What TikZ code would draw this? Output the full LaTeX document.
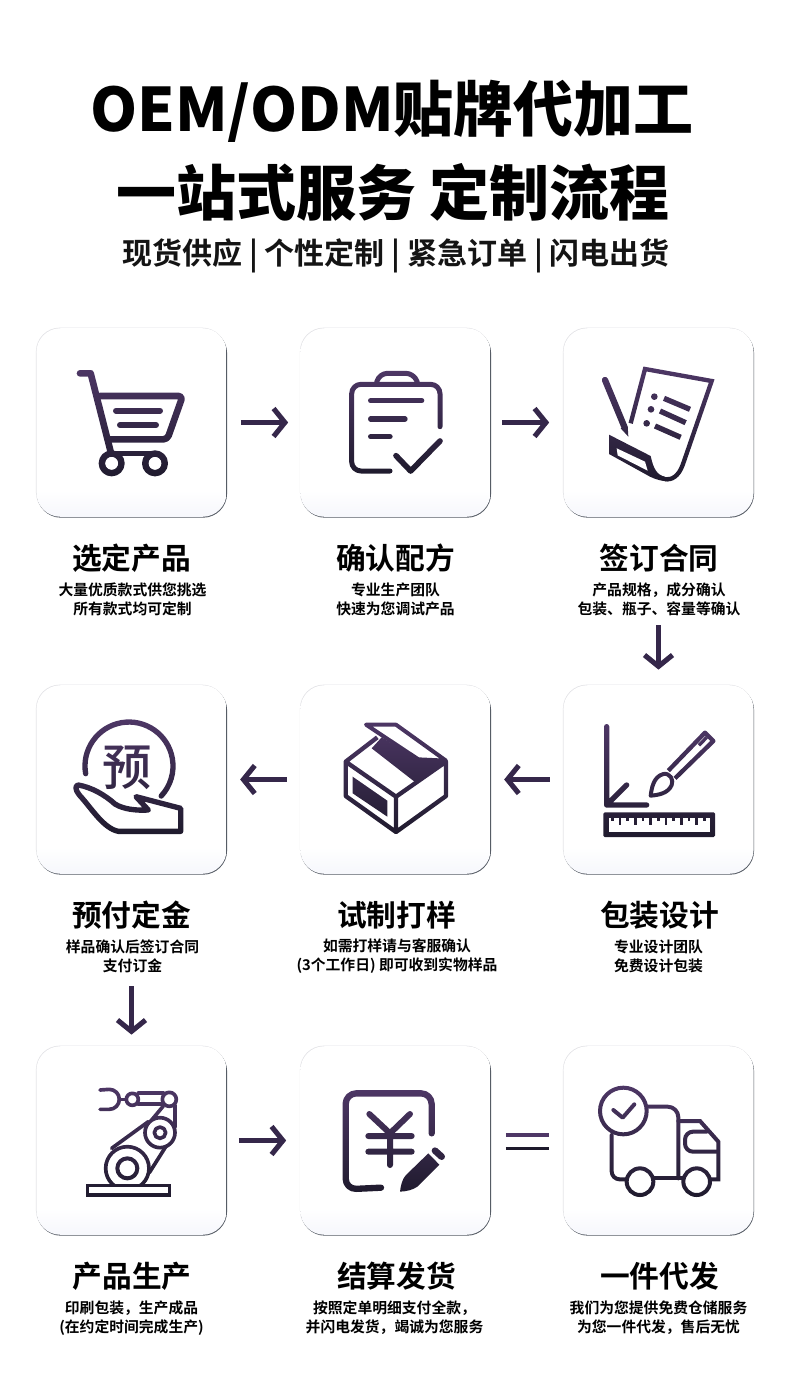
\documentclass[tikz,border=0pt]{standalone}
\usepackage{fontspec}
\usetikzlibrary{arrows.meta,shadings,calc}
\setmainfont{Noto Sans CJK SC}
\newfontfamily\heavyf{Noto Sans CJK SC Black}
\newfontfamily\medf{Noto Sans CJK SC Medium}
\newfontfamily\boldf{Noto Sans CJK SC Bold}
\definecolor{ink}{HTML}{35274A}
\definecolor{gtop}{HTML}{4E3766}
\definecolor{gbot}{HTML}{1E1A2C}
\definecolor{cardedge}{HTML}{E2E2E6}
\definecolor{cardshade}{HTML}{565C65}
\definecolor{cardlow}{HTML}{F6F7FC}
\pgfdeclareverticalshading{cardgrad}{100bp}{color(0bp)=(cardlow); color(25bp)=(cardlow); color(32bp)=(white); color(100bp)=(white)}
\tikzset{
  cardbase/.style={rectangle,rounded corners=18pt,minimum width=142.6pt,minimum height=141.4pt,inner sep=0pt},
  card/.style={cardbase,shading=cardgrad},
  cardtop/.style={cardbase,fill=cardedge},
  cardlowr/.style={cardbase,fill=cardshade},
  flow/.style={draw=ink,line width=3.4pt,-{Straight Barb[length=8.5pt,width=21pt,line width=3.8pt]}},
  zc/.style={x=.25pt,y=-.25pt},
  ik/.style={draw=black,line width=#1*.25pt,line cap=round,line join=round},
  ikb/.style={draw=black,line width=#1*.25pt,line join=miter},
  title/.style={font=\heavyf\fontsize{45}{50}\selectfont,text=black,inner sep=0pt},
  subt/.style={font=\boldf\fontsize{22.5}{26}\selectfont,text=black!92,inner sep=0pt},
  head/.style={font=\boldf\fontsize{22.3}{26}\selectfont,text=black,inner sep=0pt},
  desc/.style={font=\boldf\fontsize{11.1}{14.3}\selectfont,text=black,inner sep=0pt,align=center},
  grad/.style={blend mode=screen,top color=gtop,bottom color=gbot,draw=none}
}
\begin{document}
\begin{tikzpicture}[x=.75pt,y=-.75pt]
\useasboundingbox[fill=white] (0,0) rectangle (790,1385);
% titles
\node[title] (t1) at (392,111.5) {OEM/ODM贴牌代加工};
\node[title] (t2) at (393,192) {一站式服务 定制流程};
\node[subt] (t3) at (396,256) {现货供应 | 个性定制 | 紧急订单 | 闪电出货};
% cards
\foreach \n/\x/\y in {a/131.5/422.5,b/395.5/422.5,c/658.5/422.5,d/131.5/779.5,e/395.5/779.5,f/658.5/779.5,g/131.5/1140.5,h/395.5/1140.5,i/658.5/1140.5}{
  \node[cardtop] (\n t) at (\x-.5,\y-.6) {};
  \node[cardlowr] (\n s) at (\x+.5,\y+.9) {};
  \node[card] (\n) at (\x,\y) {};
}
% connectors
\draw[flow,shorten <=10.5pt,shorten >=9pt] (a.east) -- (b.west);
\draw[flow,shorten <=8.5pt,shorten >=10.5pt] (b.east) -- (c.west);
\draw[flow,shorten <=81pt,shorten >=11.5pt] (c.south) -- (f.north);
\draw[flow,shorten <=10pt,shorten >=10pt] (f.west) -- (e.east);
\draw[flow,shorten <=10pt,shorten >=10pt] (e.west) -- (d.east);
\draw[flow,shorten <=84pt,shorten >=8.5pt] (d.south) -- (g.north);
\draw[flow,shorten <=9pt,shorten >=10.5pt] (g.east) -- (h.west);
% equals
\coordinate (eqa) at ($(h.east)+(15,-5.5)$);
\coordinate (eqb) at ($(i.west)+(-14,-5.5)$);
\coordinate (eqc) at ($(h.east)+(15,8)$);
\coordinate (eqd) at ($(i.west)+(-14,8)$);
\draw[line width=2.3pt,gtop] (eqa) -- (eqb);
\draw[line width=2.3pt,gbot] (eqc) -- (eqd);
% labels
\node[head] (l1) at (131.5,558) {选定产品};
\node[desc] (d1) at (132.5,599.5) {大量优质款式供您挑选\\所有款式均可定制};
\node[head] (l2) at (395.5,558) {确认配方};
\node[desc] (d2) at (395.5,599.5) {专业生产团队\\快速为您调试产品};
\node[head] (l3) at (659,558) {签订合同};
\node[desc] (d3) at (659,599.5) {产品规格，成分确认\\包装、瓶子、容量等确认};
\node[head] (l4) at (131.5,915) {预付定金};
\node[desc] (d4) at (132.5,956.5) {样品确认后签订合同\\支付订金};
\node[head] (l5) at (396.5,915) {试制打样};
\node[desc] (d5) at (397,956.5) {如需打样请与客服确认\\(3个工作日) 即可收到实物样品};
\node[head] (l6) at (659.5,915) {包装设计};
\node[desc] (d6) at (658.5,956.5) {专业设计团队\\免费设计包装};
\node[head] (l7) at (132,1276) {产品生产};
\node[desc] (d7) at (131.5,1318) {印刷包装，生产成品\\(在约定时间完成生产)};
\node[head] (l8) at (396.5,1276) {结算发货};
\node[desc] (d8) at (394.5,1318) {按照定单明细支付全款，\\并闪电发货，竭诚为您服务};
\node[head] (l9) at (659.5,1276) {一件代发};
\node[desc] (d9) at (658.5,1318) {我们为您提供免费仓储服务\\为您一件代发，售后无忧};
% ---- icons
% cart
\begin{scope}[shift={(20,320)},zc]
\draw[ik=20] (180,160)--(212,160)--(272,395);
\draw[ik=20,rounded corners=3pt] (240,228)--(488,228)--(442,358)--(268,358);
\draw[ik=18] (288,272)--(420,272) (300,315)--(408,315);
\draw[ik=17] (275,400)--(405,400);
\draw[ik=20] (275,430) circle (29) (405,430) circle (29);
\fill[white] (275,430) circle (19) (405,430) circle (19);
\fill[grad] (150,140) rectangle (510,480);
\end{scope}
% clipboard
\begin{scope}[shift={(340,365)},zc]
\draw[ik=15,rounded corners=6pt] (110,52)--(118,25)--(222,25)--(232,52);
\draw[ik=15,rounded corners=7pt] (150,318)--(35,318)--(35,58)--(300,58)--(300,185);
\draw[ik=16] (92,107)--(245,107) (92,162)--(195,162) (92,215)--(150,215);
\draw[ik=17] (168,272)--(212,318)--(300,228);
\fill[grad] (20,12) rectangle (315,332);
\end{scope}
% document
\begin{scope}[shift={(490,320)},zc]
\draw[ik=13,line join=miter,line cap=butt] (422,310)--(465,147)--(665,183)--(578,435) .. controls (565,470) and (545,480) .. (525,478);
\fill[black] (357,344)--(482,408) .. controls (490,445) and (500,465) .. (525,470) -- (535,484) .. controls (520,484) and (500,480) .. (480,470) -- (357,402)--cycle;
\fill[white] (380,385)--(465,425)--(473,452)--(383,406)--cycle;
\draw[ik=19] (345,180)--(403,320);
\fill[black] (392,325)--(415,350)--(413,318)--cycle;
\fill[black] (493,230) circle (10) (483,268) circle (10) (470,310) circle (10);
\draw[ikb=16] (522,235)--(600,268) (510,273)--(587,308) (495,318)--(572,352);
\fill[grad] (325,135) rectangle (680,495);
\end{scope}
% hand and coin
\begin{scope}[shift={(20,680)},zc]
\draw[ik=16] (197,281) arc (170:403:132);
\node[font=\medf\fontsize{37}{37}\selectfont,inner sep=0pt] (yu) at (322,262) {预};
\fill[white] (175,320)--(345,352)--(485,385)--(485,455)--(295,455)--(175,345)--cycle;
\draw[ik=16] (175,315) .. controls (215,322) and (255,345) .. (285,372) .. controls (310,388) and (350,392) .. (385,390) -- (348,350) -- (482,385) -- (482,454) -- (295,454) .. controls (250,445) and (215,385) .. (178,345) .. controls (165,330) and (165,315) .. (175,315) -- cycle;
\fill[grad] (155,115) rectangle (500,470);
\end{scope}
% box
\begin{scope}[shift={(20,680)},zc]
\fill[black] (1085,172)--(1195,240)--(1280,245)--(1190,310)--(1055,205)--cycle;
\draw[ikb=13,line join=round] (1072,172)--(977,245)--(977,348)--(1128,456)--(1278,348)--(1278,245)--(1128,350)--(977,245) (1128,350)--(1128,456);
\draw[ikb=12,line join=round] (1038,134)--(1128,134)--(1278,242)--(1195,238)--cycle;
\fill[black] (998,290)--(1102,362)--(1102,410)--(998,340)--cycle;
\fill[grad] (960,120) rectangle (1295,470);
\end{scope}
% design
\begin{scope}[shift={(490,680)},zc]
\draw[ik=16] (350,140)--(350,375)--(470,375) (350,375)--(410,315);
\fill[black,rounded corners=1pt] (340,397) rectangle (675,471);
\fill[white] (358,413) rectangle (660,456);
\foreach \t/\l in {367/10,390/22,413/10,436/22,459/10,482/22,505/10,528/22,551/10,574/22,597/10,620/22,643/10}
  \draw[ikb=8] (\t,413)--(\t,413+\l);
\draw[ikb=13,line join=round] (535,272)--(645,158)--(670,183)--(555,295);
\draw[ikb=10] (627,196)--(650,172);
\draw[ik=12] (482,347) .. controls (485,325) and (490,290) .. (520,282) .. controls (540,278) and (552,300) .. (545,315) .. controls (535,340) and (505,345) .. (482,347) -- cycle;
\fill[grad] (330,130) rectangle (685,480);
\end{scope}
% robot
\begin{scope}[shift={(20,1040)},zc]
\draw[ik=11] (240,150) -- (268,148) arc (270:450:30) -- (240,208);
\draw[ik=11] (298,178)--(320,178);
\draw[ik=12] (355,160)--(430,160) (355,193)--(430,193);
\draw[ik=11] (395,240)--(430,198) (465,195)--(465,262);
\draw[ik=11] (275,325)--(385,245) (388,398)--(455,292);
\filldraw[ik=11,fill=white] (337,178) circle (18);
\filldraw[ik=11,fill=white] (448,178) circle (21);
\filldraw[ik=11,fill=white] (420,278) circle (45);
\draw[ik=11] (420,278) circle (17);
\filldraw[ik=11,fill=white] (322,385) circle (65);
\draw[ik=12] (322,385) circle (30);
\filldraw[ikb=11,fill=white] (202,436) rectangle (448,465);
\fill[grad] (190,135) rectangle (480,480);
\end{scope}
% yen
\begin{scope}[shift={(20,1040)},zc]
\draw[ik=19,rounded corners=8pt] (1235,280)--(1235,160)--(977,160)--(977,448)--(1083,443);
\draw[ik=18] (1048,222)--(1110,280)--(1170,222) (1110,280)--(1110,375) (1045,288)--(1175,288) (1045,335)--(1175,335);
\fill[black] (1140,455) .. controls (1142,435) and (1148,415) .. (1158,405) -- (1225,340) -- (1258,374) -- (1192,440) .. controls (1178,450) and (1160,454) .. (1140,455) -- cycle;
\draw[ik=20] (1245,332)--(1265,350);
\fill[grad] (960,145) rectangle (1290,465);
\end{scope}
% truck
\begin{scope}[shift={(490,1040)},zc]
\draw[ik=12,rounded corners=8pt] (470,200)--(565,200)--(565,415);
\draw[ik=12,rounded corners=6pt] (365,285)--(365,418)--(410,418);
\draw[ik=12] (490,415)--(580,415);
\draw[ik=12,line join=miter] (565,243)--(630,243)--(685,305)--(685,418)--(662,418);
\draw[ik=12,rounded corners=6pt] (682,335)--(585,335)--(585,275)--(650,275);
\filldraw[ik=12,fill=white] (400,213) circle (70);
\draw[ik=12] (370,210)--(398,233)--(433,193);
\filldraw[ik=12,fill=white] (450,425) circle (40);
\filldraw[ik=12,fill=white] (620,425) circle (40);
\fill[grad] (320,130) rectangle (700,478);
\end{scope}
\end{tikzpicture}
\end{document}
